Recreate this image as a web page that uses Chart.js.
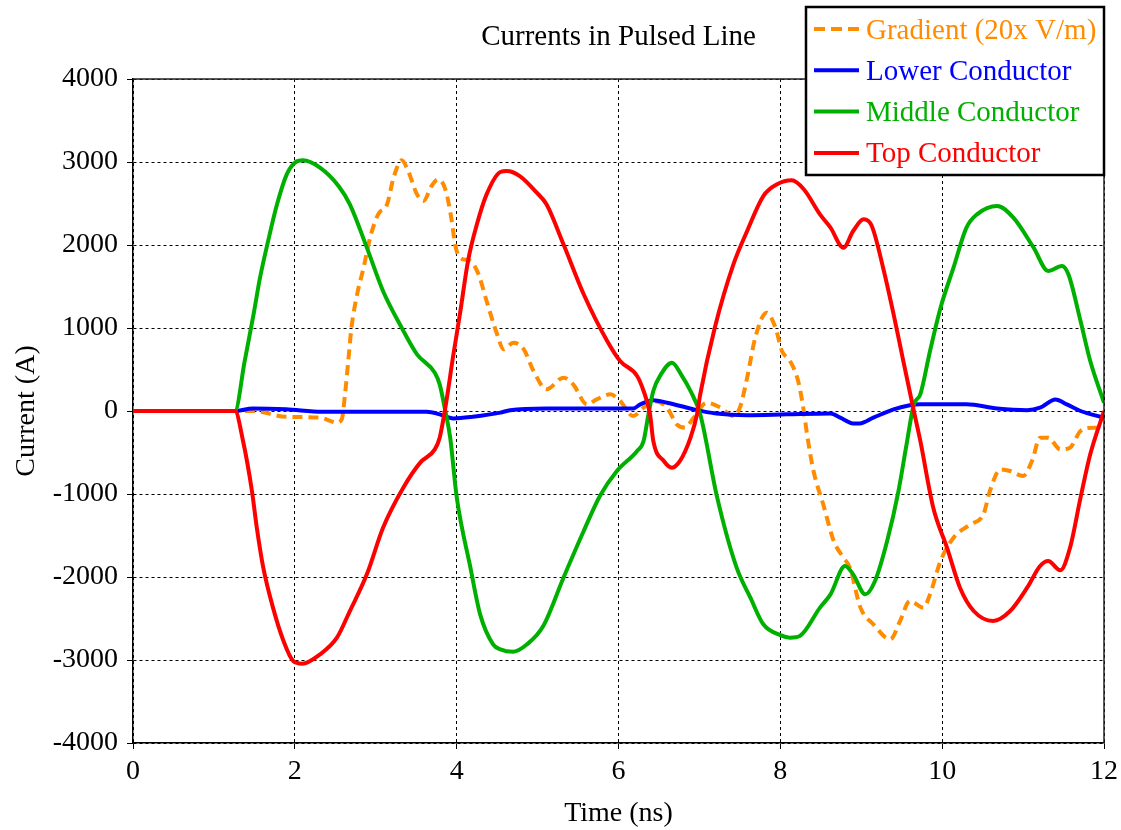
<!DOCTYPE html>
<html>
<head>
<meta charset="utf-8">
<title>Currents in Pulsed Line</title>
<script src="https://cdn.jsdelivr.net/npm/chart.js@4.4.1/dist/chart.umd.min.js"></script>
<style>
  html, body { margin: 0; padding: 0; background: #ffffff; }
  #wrap { width: 1121px; height: 830px; }
</style>
</head>
<body>
<div id="wrap"><canvas id="chart" width="1121" height="830"></canvas></div>
<script>
// ---- Text ----
const chartTitle = 'Currents in Pulsed Line';
const xAxisTitle = 'Time (ns)';
const yAxisTitle = 'Current (A)';
const seriesNames = ['Gradient (20x V/m)', 'Lower Conductor', 'Middle Conductor', 'Top Conductor'];

// ---- Tick labels ----
const timeTicks = [0, 2, 4, 6, 8, 10, 12];
const currentTicks = [-4000, -3000, -2000, -1000, 0, 1000, 2000, 3000, 4000];

// ---- Gradient (20x V/m) ----
const gradientTime = [0, 1.26, 1.48, 1.89, 2.31, 2.52, 2.58, 2.62, 2.66, 2.70, 2.77, 2.85, 2.93, 3.03, 3.14, 3.22, 3.32, 3.40, 3.51, 3.59, 3.69, 3.77, 3.86, 3.94, 3.98, 4.04, 4.17, 4.27, 4.37, 4.50, 4.58, 4.70, 4.83, 4.95, 5.11, 5.32, 5.44, 5.61, 5.73, 5.90, 6.02, 6.18, 6.31, 6.43, 6.60, 6.72, 6.82, 6.93, 7.09, 7.26, 7.42, 7.50, 7.59, 7.69, 7.83, 7.94, 8.02, 8.12, 8.22, 8.29, 8.33, 8.41, 8.53, 8.66, 8.78, 8.86, 8.99, 9.15, 9.36, 9.48, 9.60, 9.77, 9.85, 9.98, 10.14, 10.35, 10.51, 10.59, 10.72, 10.84, 11.00, 11.11, 11.21, 11.31, 11.46, 11.58, 11.71, 11.87, 12.0];
const gradientValue = [0, 0, 0, -70, -80, -140, -100, 200, 600, 1004, 1406, 1727, 2088, 2370, 2490, 2811, 3020, 2892, 2610, 2530, 2711, 2791, 2671, 2289, 2008, 1847, 1807, 1647, 1325, 924, 743, 823, 743, 482, 261, 402, 321, 80, 140, 201, 120, -60, 40, 120, 40, -160, -200, -80, 100, 40, -60, 40, 402, 884, 1185, 1004, 723, 602, 361, 0, -281, -723, -1124, -1566, -1767, -1888, -2369, -2570, -2751, -2530, -2289, -2369, -2209, -1807, -1526, -1365, -1245, -964, -703, -723, -783, -602, -321, -321, -462, -442, -241, -201, -201];

// ---- Lower conductor current (A) ----
const lowerTime = [0, 1.26, 1.48, 1.89, 2.34, 3.30, 3.63, 3.79, 3.96, 4.20, 4.54, 4.66, 5.11, 5.77, 6.18, 6.27, 6.43, 6.60, 6.93, 7.21, 7.59, 8.08, 8.62, 8.74, 8.90, 8.98, 9.15, 9.40, 9.60, 9.73, 10.30, 10.68, 11.05, 11.21, 11.40, 11.54, 11.71, 12.0];
const lowerValue = [0, 0, 30, 20, -10, -10, -10, -40, -90, -70, -20, 10, 30, 30, 30, 80, 130, 100, 20, -30, -50, -40, -30, -80, -150, -150, -80, 20, 70, 80, 80, 30, 10, 40, 140, 80, 0, -80];

// ---- Middle conductor current (A) ----
const middleTime = [0, 1.26, 1.38, 1.49, 1.57, 1.67, 1.78, 1.90, 2.00, 2.10, 2.31, 2.54, 2.68, 2.89, 3.09, 3.32, 3.51, 3.73, 3.79, 3.86, 3.92, 4.00, 4.17, 4.29, 4.45, 4.54, 4.70, 4.87, 5.07, 5.32, 5.57, 5.77, 5.98, 6.23, 6.31, 6.37, 6.43, 6.53, 6.66, 6.78, 6.89, 7.01, 7.22, 7.46, 7.63, 7.79, 8.00, 8.12, 8.24, 8.49, 8.62, 8.80, 8.90, 9.05, 9.17, 9.32, 9.46, 9.56, 9.65, 9.73, 9.85, 9.98, 10.14, 10.30, 10.43, 10.68, 10.88, 11.13, 11.31, 11.48, 11.56, 11.71, 11.83, 12.0];
const middleValue = [0, 0, 600, 1165, 1606, 2048, 2490, 2851, 2992, 3020, 2932, 2711, 2490, 1968, 1446, 1004, 683, 461, 321, 0, -321, -1034, -1888, -2450, -2811, -2871, -2900, -2811, -2590, -2008, -1446, -1024, -723, -482, -361, -40, 241, 450, 582, 430, 241, -40, -1044, -1888, -2249, -2570, -2700, -2731, -2711, -2369, -2209, -1867, -1968, -2209, -2048, -1566, -964, -401, 80, 201, 723, 1245, 1727, 2209, 2369, 2470, 2329, 1968, 1687, 1747, 1647, 1084, 602, 100];

// ---- Top conductor current (A) ----
const topTime = [0, 1.26, 1.36, 1.47, 1.53, 1.61, 1.73, 1.86, 1.98, 2.09, 2.31, 2.52, 2.68, 2.89, 3.09, 3.34, 3.55, 3.73, 3.79, 3.86, 3.96, 4.04, 4.14, 4.25, 4.37, 4.54, 4.62, 4.78, 4.99, 5.11, 5.32, 5.57, 5.86, 6.02, 6.23, 6.31, 6.39, 6.43, 6.56, 6.66, 6.76, 6.89, 6.97, 7.01, 7.19, 7.42, 7.59, 7.79, 7.96, 8.14, 8.29, 8.49, 8.62, 8.78, 8.90, 9.03, 9.13, 9.27, 9.40, 9.52, 9.65, 9.73, 9.89, 10.06, 10.22, 10.39, 10.63, 10.84, 11.05, 11.21, 11.31, 11.46, 11.58, 11.71, 11.83, 12.0];
const topValue = [0, 0, -361, -964, -1406, -1888, -2369, -2771, -3012, -3044, -2932, -2731, -2410, -1968, -1406, -924, -622, -462, -321, 40, 683, 1165, 1807, 2249, 2610, 2880, 2892, 2831, 2630, 2490, 2008, 1406, 843, 602, 422, 241, -40, -361, -602, -683, -602, -321, -40, 201, 1004, 1767, 2169, 2590, 2731, 2779, 2671, 2369, 2209, 1968, 2169, 2309, 2229, 1727, 1165, 602, 0, -361, -1165, -1647, -2129, -2410, -2530, -2410, -2129, -1867, -1807, -1919, -1647, -1044, -522, 0];

// ---- Styles ----
const seriesColors = ['#ff8c00', '#0000ff', '#00b000', '#ff0000'];
const FONT = '"Liberation Serif", "Times New Roman", serif';
const TICK_SIZE = 28;
const HEAD_SIZE = 29;

function points(times, values) {
  return times.map((t, i) => ({ x: t, y: values[i] }));
}

const seriesData = [
  points(gradientTime, gradientValue),
  points(lowerTime, lowerValue),
  points(middleTime, middleValue),
  points(topTime, topValue)
];

// later series are drawn over earlier ones (smaller order = drawn on top)
const datasets = seriesNames.map((name, i) => ({
  label: name,
  data: seriesData[i],
  borderColor: seriesColors[i],
  backgroundColor: seriesColors[i],
  borderWidth: 4,
  borderDash: i === 0 ? [10, 6] : [],
  borderCapStyle: 'butt',
  pointRadius: 0,
  fill: false,
  cubicInterpolationMode: 'monotone',
  order: seriesNames.length - 1 - i
}));

// Title, axis titles, plot frame and boxed legend
const decorations = {
  id: 'decorations',
  afterDatasetsDraw(chart) {
    const { ctx, chartArea: a } = chart;
    ctx.save();
    ctx.strokeStyle = '#222';
    ctx.lineWidth = 1.5;
    ctx.beginPath();
    ctx.moveTo(a.left, a.top);
    ctx.lineTo(a.right, a.top);
    ctx.lineTo(a.right, a.bottom);
    ctx.stroke();
    ctx.restore();
  },
  afterDraw(chart) {
    const { ctx, chartArea: a } = chart;
    ctx.save();
    ctx.fillStyle = '#000';
    ctx.textAlign = 'center';
    ctx.textBaseline = 'alphabetic';
    const cx = (a.left + a.right) / 2;
    ctx.font = `${HEAD_SIZE}px ${FONT}`;
    ctx.fillText(chartTitle, cx, 45);
    ctx.font = `${TICK_SIZE}px ${FONT}`;
    ctx.fillText(xAxisTitle, cx, 821);
    ctx.save();
    ctx.translate(34, (a.top + a.bottom) / 2);
    ctx.rotate(-Math.PI / 2);
    ctx.fillText(yAxisTitle, 0, 0);
    ctx.restore();

    // legend box
    const box = { x: 806, y: 7, w: 298, h: 168 };
    ctx.fillStyle = '#fff';
    ctx.fillRect(box.x, box.y, box.w, box.h);
    ctx.strokeStyle = '#000';
    ctx.lineWidth = 2.5;
    ctx.strokeRect(box.x, box.y, box.w, box.h);
    ctx.textAlign = 'left';
    ctx.font = `${HEAD_SIZE}px ${FONT}`;
    chart.data.datasets.forEach((ds, i) => {
      const yMid = 29 + i * 41.3;
      ctx.strokeStyle = ds.borderColor;
      ctx.lineWidth = 4;
      ctx.lineCap = 'butt';
      ctx.setLineDash(ds.borderDash.length ? [11, 6] : []);
      ctx.beginPath();
      ctx.moveTo(814, yMid);
      ctx.lineTo(859, yMid);
      ctx.stroke();
      ctx.setLineDash([]);
      ctx.fillStyle = ds.borderColor;
      ctx.fillText(ds.label, 866, yMid + 9.5);
    });
    ctx.restore();
  }
};

new Chart(document.getElementById('chart'), {
  type: 'line',
  data: { datasets },
  plugins: [decorations],
  options: {
    responsive: false,
    animation: false,
    events: [],
    layout: { padding: { top: 79, right: 17, left: 0, bottom: 0 } },
    plugins: {
      legend: { display: false },
      title: { display: false },
      tooltip: { enabled: false }
    },
    scales: {
      x: {
        type: 'linear',
        min: timeTicks[0],
        max: timeTicks[timeTicks.length - 1],
        afterBuildTicks: (s) => { s.ticks = timeTicks.map((v) => ({ value: v })); },
        afterFit: (s) => { s.height = 87; s.paddingLeft = 0; s.paddingRight = 0; },
        ticks: {
          color: '#000',
          font: { family: FONT, size: TICK_SIZE },
          padding: 6,
          maxRotation: 0,
          autoSkip: false,
          callback: (v) => String(v)
        },
        grid: { color: '#000', lineWidth: 1, tickLength: 6, tickColor: '#000', tickBorderDash: [] },
        border: { display: true, color: '#000', width: 1.5, dash: [3, 3] }
      },
      y: {
        type: 'linear',
        min: currentTicks[0],
        max: currentTicks[currentTicks.length - 1],
        afterBuildTicks: (s) => { s.ticks = currentTicks.map((v) => ({ value: v })); },
        afterFit: (s) => { s.width = 133; s.paddingTop = 0; s.paddingBottom = 0; },
        ticks: {
          color: '#000',
          font: { family: FONT, size: TICK_SIZE },
          padding: 9,
          autoSkip: false,
          callback: (v) => String(v)
        },
        grid: { color: '#000', lineWidth: 1, tickLength: 6, tickColor: '#000', tickBorderDash: [] },
        border: { display: true, color: '#000', width: 1.5, dash: [3, 3] }
      }
    }
  }
});
</script>
</body>
</html>
